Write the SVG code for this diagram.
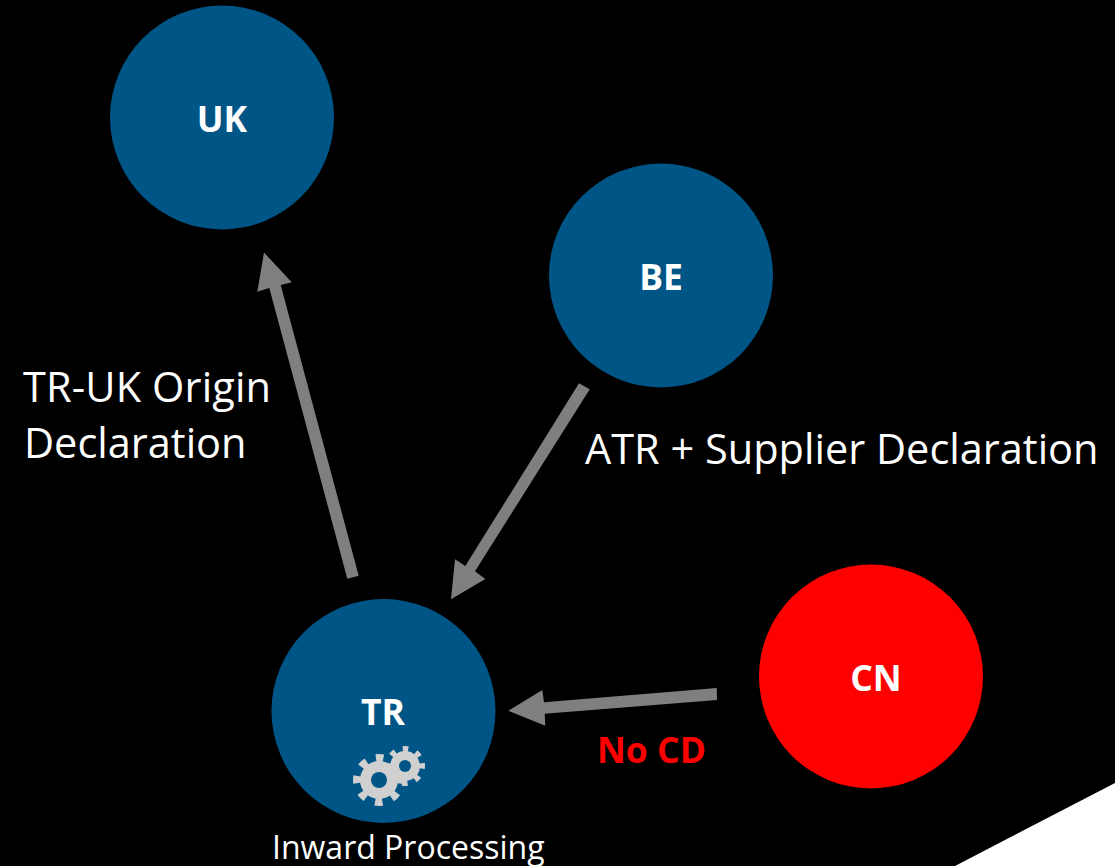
<svg xmlns="http://www.w3.org/2000/svg" width="1115" height="866" viewBox="0 0 1115 866">
<defs>
<style>
.t{font-family:"Open Sans","Noto Sans","Liberation Sans",sans-serif}
.n{font-size:35.5px;font-weight:700;fill:#fff;text-anchor:middle}
.l{font-size:41.5px;fill:#fff}
.blue{fill:#005587}
.arrow{fill:#7f7f7f}
.teeth{fill:none;stroke:#d0d0d0}
.gear{fill:#d0d0d0}
</style>
</defs>
<rect width="1115" height="866" fill="#000"/>
<polygon points="955,866 1115,783 1115,866" fill="#fff"/>
<g id="connectors">
<polygon class="arrow" points="347.3,578.7 358.7,575.7 280.7,285 291.7,282.3 264,252.5 257.3,291.7 269.3,288"/>
<polygon class="arrow" points="579,383.3 589.7,389.3 475,571.3 485.3,579 451,599.3 455,559.3 465.3,566"/>
<polygon class="arrow" points="716.7,688 717,700 544.7,713.7 545.3,725.7 508.3,710.7 542.3,690 544,702.3"/>
</g>
<g id="UK"><circle class="blue" cx="222" cy="117.5" r="112"/><text class="t n" x="222" y="132">UK</text></g>
<g id="BE"><circle class="blue" cx="661" cy="275.5" r="112"/><text class="t n" x="661" y="290">BE</text></g>
<g id="CN"><circle cx="871" cy="676.5" r="112" fill="#f00"/><text class="t n" x="876" y="691">CN</text></g>
<g id="TR"><circle class="blue" cx="383.5" cy="711" r="112"/><text class="t n" x="383" y="725">TR</text>
<g id="gears">
<circle class="teeth" cx="379" cy="780" r="21" stroke-width="10" stroke-dasharray="7 9.49" transform="rotate(-9.5 379 780)"/>
<circle class="gear" cx="379" cy="780" r="19"/>
<circle class="blue" cx="379" cy="780" r="8"/>
<circle class="teeth" cx="405" cy="766" r="16" stroke-width="8" stroke-dasharray="5 7.57" transform="rotate(-9 405 766)"/>
<circle class="gear" cx="405" cy="766" r="15"/>
<circle class="blue" cx="405" cy="766" r="6"/>
</g></g>
<g id="labels">
<text class="t l" x="23" y="402" textLength="248">TR-UK Origin</text>
<text class="t l" x="24" y="458">Declaration</text>
<text class="t l" x="585" y="464">ATR + Supplier Declaration</text>
<text class="t" x="597" y="763" font-size="35.5" font-weight="700" fill="#f00">No CD</text>
<text class="t" x="272" y="859" font-size="32" fill="#fff">Inward Processing</text>
</g>
</svg>
